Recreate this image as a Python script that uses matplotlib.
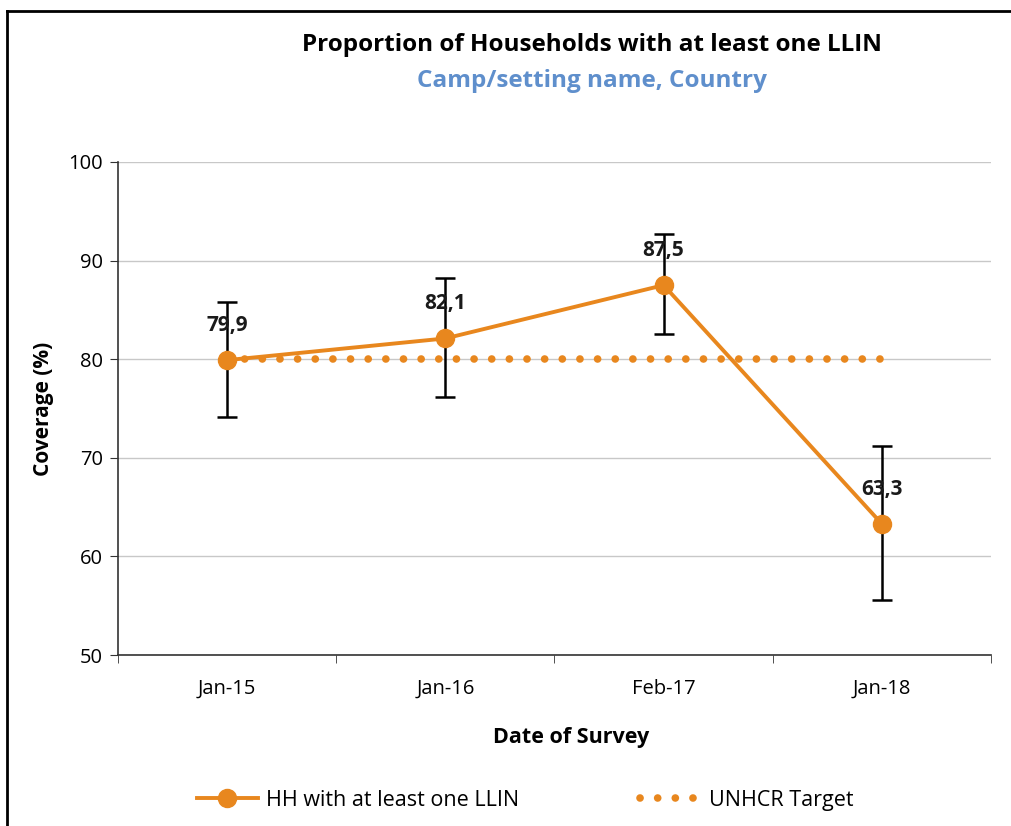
import numpy as np
import matplotlib
matplotlib.use('Agg')
import matplotlib.pyplot as plt
from matplotlib.lines import Line2D

# survey data
dates = ['Jan-15', 'Jan-16', 'Feb-17', 'Jan-18']
coverage = [79.9, 82.1, 87.5, 63.3]
ci_low = [74.1, 76.2, 82.5, 55.6]
ci_high = [85.8, 88.2, 92.7, 71.2]
target = [80, 80, 80, 80]

orange = '#E8871E'
plt.rcParams['font.family'] = ['Open Sans', 'DejaVu Sans']

fig = plt.figure(figsize=(10.12, 8.26), dpi=100)
ax = fig.add_axes([0.1166, 0.207, 0.8626, 0.597])

x = np.arange(len(dates))
cov = np.array(coverage)
yerr = [cov - np.array(ci_low), np.array(ci_high) - cov]

ax.plot(x, target, color=orange, linestyle=(0, (0.01, 2.3)), linewidth=5.5,
        dash_capstyle='round', label='UNHCR Target', zorder=2)
ax.errorbar(x, cov, yerr=yerr, fmt='none', ecolor='black', elinewidth=1.8,
            capsize=7, capthick=1.8, zorder=3)
ax.plot(x, cov, color=orange, linewidth=2.8, marker='o', markersize=13,
        label='HH with at least one LLIN', zorder=4)

for xi, v in zip(x, coverage):
    ax.annotate(('%.1f' % v).replace('.', ','), (xi, v), xytext=(0, 25),
                textcoords='offset points', ha='center', va='center',
                fontsize=15, fontweight='bold', color='#1a1a1a', zorder=5)

ax.set_xlim(-0.5, 3.5)
ax.set_ylim(50, 100)
ax.set_yticks([50, 60, 70, 80, 90, 100])
ax.set_xticks(x)
ax.set_xticklabels(dates)
ax.set_xticks(np.arange(-0.5, 4, 1), minor=True)
ax.tick_params(axis='x', which='major', length=0, pad=17, labelsize=14.5)
ax.tick_params(axis='x', which='minor', length=6, color='#333333')
ax.tick_params(axis='y', length=6, color='#333333', labelsize=14.5, pad=5)
ax.yaxis.grid(True, color='#c8c8c8', linewidth=1)
ax.set_axisbelow(True)
for s in ['top', 'right']:
    ax.spines[s].set_visible(False)
for s in ['left', 'bottom']:
    ax.spines[s].set_color('#333333')
    ax.spines[s].set_linewidth(1.2)

ax.set_ylabel('Coverage (%)', fontsize=15, fontweight='bold', labelpad=10)
ax.set_xlabel('Date of Survey', fontsize=15.5, fontweight='bold', labelpad=20)
ax.xaxis.set_label_coords(0.519, -0.145)

fig.text(0.585, 0.945, 'Proportion of Households with at least one LLIN',
         ha='center', va='center', fontsize=17.5, fontweight='bold', color='black')
fig.text(0.585, 0.902, 'Camp/setting name, Country', ha='center', va='center',
         fontsize=17.5, fontweight='bold', color='#5F8FCC')

handles, labels = ax.get_legend_handles_labels()
fig.legend(handles[::-1], labels[::-1], loc='center', bbox_to_anchor=(0.519, 0.031),
           ncol=2, frameon=False, fontsize=15.5, columnspacing=5.6, handlelength=2.8,
           handletextpad=0.4)

# outer border (only top and left edges are visible in the crop)
fig.add_artist(Line2D([0.007, 1.0], [0.987, 0.987], color='black', linewidth=2))
fig.add_artist(Line2D([0.007, 0.007], [0.0, 0.987], color='black', linewidth=2))

fig.savefig('out.png', dpi=100)
